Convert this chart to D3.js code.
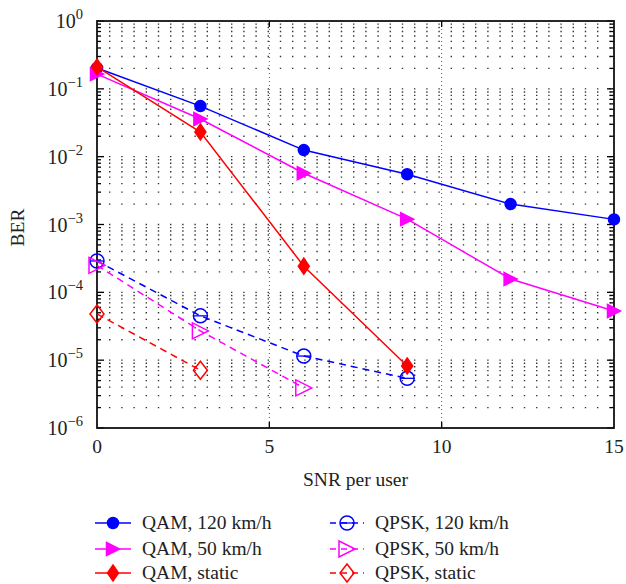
<!DOCTYPE html>
<html>
<head>
<meta charset="utf-8">
<script src="https://cdn.jsdelivr.net/npm/d3@7"></script>
<style>
  body { margin: 0; background: #fff; }
  svg text { font-family: "Liberation Serif", "DejaVu Serif", serif; fill: #222; }
</style>
</head>
<body>
<svg id="chart" width="626" height="584"></svg>
<script>
// data
const snr = [0, 3, 6, 9, 12, 15];
const qam120 = [0.203, 0.0557, 0.0125, 0.0055, 0.002, 0.00119];
const qam50 = [0.165, 0.0359, 0.0057, 0.0012, 0.000157, 0.000053];
const qamStatic = [0.21, 0.0231, 0.000243, 0.0000082];
const qpsk120 = [0.00029, 0.000045, 0.0000115, 0.0000054];
const qpsk50 = [0.00025, 0.000027, 0.0000039];
const qpskStatic = [0.000048, 0.0000071];
const xTicks = [0, 5, 10, 15];
const yExps = [0, -1, -2, -3, -4, -5, -6];

const series = [
  { label: "QAM, 120 km/h", values: qam120, color: "#0000ff", dashed: false, marker: "circle", filled: true },
  { label: "QAM, 50 km/h", values: qam50, color: "#ff00ff", dashed: false, marker: "triangle", filled: true },
  { label: "QAM, static", values: qamStatic, color: "#ff0000", dashed: false, marker: "diamond", filled: true },
  { label: "QPSK, 120 km/h", values: qpsk120, color: "#0000ff", dashed: true, marker: "circle", filled: false },
  { label: "QPSK, 50 km/h", values: qpsk50, color: "#ff00ff", dashed: true, marker: "triangle", filled: false },
  { label: "QPSK, static", values: qpskStatic, color: "#ff0000", dashed: true, marker: "diamond", filled: false }
];

const margin = { left: 97, right: 12, top: 21, bottom: 156 };
const width = 626, height = 584;
const fontSize = 19.5;
const svg = d3.select("#chart");

const x = d3.scaleLinear().domain([0, 15]).range([margin.left, width - margin.right]);
const y = d3.scaleLog().domain([1e-6, 1]).range([height - margin.bottom, margin.top]);

// grid: dotted horizontal lines at every log tick, vertical at 5 and 10
const logTicks = [];
for (let e = -6; e < 0; e++) {
  for (let m = 1; m < 10; m++) logTicks.push(m * Math.pow(10, e));
}
logTicks.push(1);

const grid = svg.append("g").attr("class", "grid");
grid.selectAll(null)
  .data(logTicks.filter(function (d) { return d < 1 && d > 1e-6; }))
  .enter()
  .append("line")
  .attr("x1", x(0) + 12)
  .attr("x2", x(15))
  .attr("y1", function (d) { return y(d); })
  .attr("y2", function (d) { return y(d); })
  .attr("stroke", "#333")
  .attr("stroke-width", 1.4)
  .attr("stroke-dasharray", "1.4,10.8");

grid.selectAll(null)
  .data([5, 10])
  .enter()
  .append("line")
  .attr("x1", function (d) { return x(d); })
  .attr("x2", function (d) { return x(d); })
  .attr("y1", y(1))
  .attr("y2", y(1e-6))
  .attr("stroke", "#555")
  .attr("stroke-width", 1)
  .attr("stroke-dasharray", "1,3");

// minor/major tick marks on left and right, inward
const ticksG = svg.append("g").attr("class", "ticks");
[x(0), x(15)].forEach(function (xp, side) {
  ticksG.selectAll(null)
    .data(logTicks)
    .enter()
    .append("line")
    .attr("x1", xp)
    .attr("x2", function (d) {
      const major = Math.abs(Math.log10(d) - Math.round(Math.log10(d))) < 1e-9;
      const len = major ? 7 : 4;
      return side === 0 ? xp + len : xp - len;
    })
    .attr("y1", function (d) { return y(d); })
    .attr("y2", function (d) { return y(d); })
    .attr("stroke", "#000")
    .attr("stroke-width", 1.3);
});
[y(1e-6), y(1)].forEach(function (yp, side) {
  ticksG.selectAll(null)
    .data([5, 10])
    .enter()
    .append("line")
    .attr("x1", function (d) { return x(d); })
    .attr("x2", function (d) { return x(d); })
    .attr("y1", yp)
    .attr("y2", side === 0 ? yp - 6 : yp + 6)
    .attr("stroke", "#000")
    .attr("stroke-width", 1.3);
});

// frame
svg.append("rect")
  .attr("x", x(0))
  .attr("y", y(1))
  .attr("width", x(15) - x(0))
  .attr("height", y(1e-6) - y(1))
  .attr("fill", "none")
  .attr("stroke", "#111")
  .attr("stroke-width", 1.8);

// x axis labels
svg.append("g")
  .selectAll(null)
  .data(xTicks)
  .enter()
  .append("text")
  .attr("x", function (d) { return x(d); })
  .attr("y", y(1e-6) + 25)
  .attr("text-anchor", "middle")
  .attr("font-size", fontSize)
  .text(function (d) { return d; });

// y axis labels 10^n
const yLab = svg.append("g")
  .selectAll(null)
  .data(yExps)
  .enter()
  .append("text")
  .attr("x", x(0) - 14)
  .attr("y", function (d) { return y(Math.pow(10, d)) + 7; })
  .attr("text-anchor", "end")
  .attr("font-size", 20);
yLab.append("tspan").text("10");
yLab.append("tspan")
  .attr("dy", -9)
  .attr("font-size", 14.5)
  .text(function (d) { return d === 0 ? "0" : "\u2212" + Math.abs(d); });

// axis titles
svg.append("text")
  .attr("x", (x(0) + x(15)) / 2)
  .attr("y", 486)
  .attr("text-anchor", "middle")
  .attr("font-size", fontSize)
  .text("SNR per user");

svg.append("text")
  .attr("transform", "translate(24," + (y(1e-3) + 3) + ") rotate(-90)")
  .attr("text-anchor", "middle")
  .attr("font-size", fontSize)
  .text("BER");

// markers
function drawMarker(g, s, cx, cy) {
  const fill = s.filled ? s.color : "#fff";
  const fillOp = s.filled ? 1 : 0;
  if (s.marker === "circle") {
    const r = s.filled ? 5.5 : 7;
    g.append("circle")
      .attr("cx", cx).attr("cy", cy).attr("r", r)
      .attr("fill", fill).attr("fill-opacity", fillOp)
      .attr("stroke", s.color).attr("stroke-width", 1.5);
    if (!s.filled) {
      g.append("line")
        .attr("x1", cx - r).attr("x2", cx + r)
        .attr("y1", cy).attr("y2", cy)
        .attr("stroke", s.color).attr("stroke-width", 1.3);
    }
  } else if (s.marker === "triangle") {
    const h = s.filled ? 6.5 : 8;
    g.append("path")
      .attr("d", "M" + (cx - h) + "," + (cy - h) + "L" + (cx + h) + "," + cy + "L" + (cx - h) + "," + (cy + h) + "Z")
      .attr("fill", fill).attr("fill-opacity", fillOp)
      .attr("stroke", s.color).attr("stroke-width", 1.5);
  } else {
    const w = s.filled ? 5.5 : 7, hh = s.filled ? 8 : 9;
    g.append("path")
      .attr("d", "M" + cx + "," + (cy - hh) + "L" + (cx + w) + "," + cy + "L" + cx + "," + (cy + hh) + "L" + (cx - w) + "," + cy + "Z")
      .attr("fill", fill).attr("fill-opacity", fillOp)
      .attr("stroke", s.color).attr("stroke-width", 1.5);
  }
}

const line = d3.line()
  .x(function (d, i) { return x(snr[i]); })
  .y(function (d) { return y(d); });

// draw dashed series first, then solid ones
const order = [3, 4, 5, 0, 1, 2];
order.forEach(function (k) {
  const s = series[k];
  const g = svg.append("g").attr("class", "series");
  g.append("path")
    .attr("d", line(s.values))
    .attr("fill", "none")
    .attr("stroke", s.color)
    .attr("stroke-width", 1.5)
    .attr("stroke-dasharray", s.dashed ? "7,5" : null);
  s.values.forEach(function (v, i) {
    drawMarker(g, s, x(snr[i]), y(v));
  });
});

// legend
const legRows = [523, 549, 573];
const legCols = [{ x1: 95, x2: 131, tx: 142 }, { x1: 330, x2: 364, tx: 375 }];
series.forEach(function (s, i) {
  const col = legCols[Math.floor(i / 3)];
  const ry = legRows[i % 3];
  const g = svg.append("g").attr("class", "legend");
  g.append("line")
    .attr("x1", col.x1).attr("x2", col.x2)
    .attr("y1", ry).attr("y2", ry)
    .attr("stroke", s.color).attr("stroke-width", 1.5)
    .attr("stroke-dasharray", s.dashed ? "6,5" : null);
  drawMarker(g, s, (col.x1 + col.x2) / 2, ry);
  g.append("text")
    .attr("x", col.tx)
    .attr("y", ry + 6)
    .attr("font-size", fontSize)
    .text(s.label);
});
</script>
</body>
</html>
